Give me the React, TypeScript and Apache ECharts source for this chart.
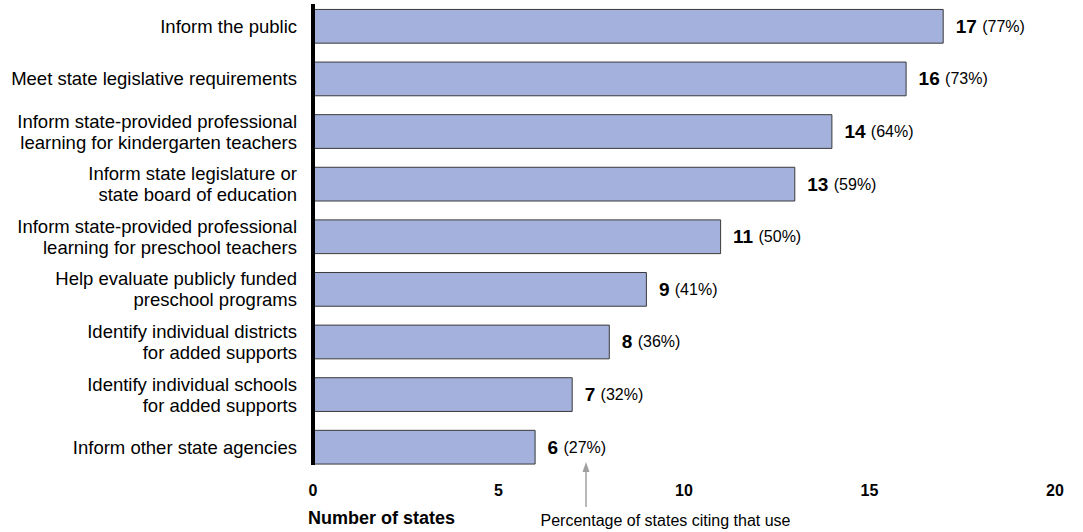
import React, { useEffect, useRef } from "react";
import * as echarts from "echarts";

const categories = [
  "Inform the public",
  "Meet state legislative requirements",
  "Inform state-provided professional\nlearning for kindergarten teachers",
  "Inform state legislature or\nstate board of education",
  "Inform state-provided professional\nlearning for preschool teachers",
  "Help evaluate publicly funded\npreschool programs",
  "Identify individual districts\nfor added supports",
  "Identify individual schools\nfor added supports",
  "Inform other state agencies",
];
const counts = [17, 16, 14, 13, 11, 9, 8, 7, 6];
const percents = [77, 73, 64, 59, 50, 41, 36, 32, 27];
const xTicks = [0, 5, 10, 15, 20];

const FONT = "'Liberation Sans', Arial, sans-serif";

export default function App() {
  const ref = useRef<HTMLDivElement>(null);
  useEffect(() => {
    if (!ref.current) return;
    const chart = echarts.init(ref.current, undefined, { renderer: "svg" });
    chart.setOption({
      animation: false,
      backgroundColor: "#ffffff",
      textStyle: { fontFamily: FONT },
      grid: { left: 313, right: 28, top: -4, bottom: 58.5, containLabel: false },
      xAxis: {
        type: "value",
        min: xTicks[0],
        max: xTicks[xTicks.length - 1],
        interval: 5,
        axisLine: { show: false },
        axisTick: { show: false },
        splitLine: { show: false },
        axisLabel: {
          color: "#000",
          fontWeight: "bold",
          fontSize: 16,
          fontFamily: FONT,
          margin: 9,
        },
      },
      yAxis: {
        type: "category",
        data: categories,
        inverse: true,
        axisLine: { show: false },
        axisTick: { show: false },
        axisLabel: {
          color: "#000",
          fontSize: 18.5,
          fontFamily: FONT,
          margin: 16,
          align: "right",
          lineHeight: 21,
        },
      },
      series: [
        {
          type: "bar",
          data: counts.map((v, i) => ({ value: v, pct: percents[i] })),
          barCategoryGap: "34%",
          itemStyle: { color: "#a3b1dc", borderColor: "#3a3a3a", borderWidth: 1 },
          label: {
            show: true,
            position: "right",
            distance: 12,
            formatter: (p: any) => `{n|${p.value}} {p|(${percents[p.dataIndex]}%)}`,
            rich: {
              n: { fontSize: 19, fontWeight: "bold", color: "#000", fontFamily: FONT },
              p: { fontSize: 16, color: "#000", fontFamily: FONT, padding: [0, 0, 0, 2] },
            },
          },
        },
      ],
      graphic: [
        { type: "rect", shape: { x: 311, y: 4, width: 4, height: 461 }, style: { fill: "#000" }, z: 10 },
        { type: "line", shape: { x1: 586, y1: 507, x2: 586, y2: 470 }, style: { stroke: "#a0a0a0", lineWidth: 1.5 } },
        { type: "polygon", shape: { points: [[586, 462], [582.5, 472], [589.5, 472]] }, style: { fill: "#a0a0a0" } },
        {
          type: "text",
          x: 308,
          y: 518,
          style: {
            text: "Number of states",
            fontSize: 18,
            fontWeight: "bold",
            fontFamily: FONT,
            fill: "#000",
            align: "left",
            verticalAlign: "middle",
          },
        },
        {
          type: "text",
          x: 665.5,
          y: 520,
          style: {
            text: "Percentage of states citing that use",
            fontSize: 16,
            fontFamily: FONT,
            fill: "#000",
            align: "center",
            verticalAlign: "middle",
          },
        },
      ],
    });
    return () => chart.dispose();
  }, []);
  return (
    <div
      ref={ref}
      style={{ position: "fixed", left: 0, top: 0, width: 1083, height: 532, background: "#fff" }}
    />
  );
}
